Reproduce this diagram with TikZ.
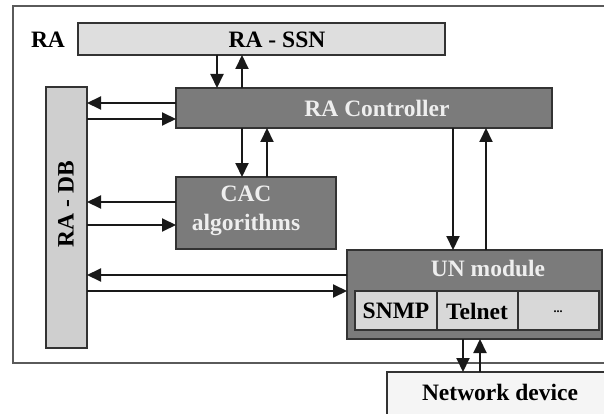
\documentclass[tikz,border=0pt]{standalone}
\usepackage{fontspec}
\setmainfont{Liberation Serif}
\usetikzlibrary{arrows.meta}
\definecolor{darkbox}{HTML}{7B7B7B}
\definecolor{lightbox}{HTML}{DEDEDE}
\definecolor{dbbox}{HTML}{CFCFCF}
\definecolor{cellbox}{HTML}{D8D8D8}
\definecolor{netbox}{HTML}{F5F5F5}
\definecolor{edge}{HTML}{333333}
\definecolor{frametone}{HTML}{5A5A5A}
\definecolor{lighttext}{HTML}{EEEEEE}
\begin{document}
\begin{tikzpicture}[x=1pt,y=-1pt,
  blk/.style={draw=edge,line width=1.4pt,inner sep=0pt,outer sep=0pt,anchor=north west},
  dark/.style={blk,fill=darkbox},
  light/.style={blk,fill=lightbox},
  cell/.style={blk,fill=cellbox,line width=1.2pt},
  lbl/.style={font=\fontsize{23.5}{29}\selectfont\bfseries,inner sep=0pt},
  wlbl/.style={lbl,text=lighttext},
  arr/.style={line width=2pt,draw=black!90,-{Triangle[length=14pt,width=13pt]}}]
\useasboundingbox (0,0) rectangle (604,414);
\clip (0,0) rectangle (604,414);
\fill[white] (0,0) rectangle (604,414);
% outer frame
\draw[frametone,line width=2.2pt] (13,6) rectangle (615,363);
% blocks
\node[light,minimum width=367pt,minimum height=32pt] (ssn) at (78,23) {};
\node[dark,minimum width=376pt,minimum height=40pt] (ctrl) at (176,88) {};
\node[blk,fill=dbbox,minimum width=41pt,minimum height=261pt] (db) at (46,87) {};
\node[dark,minimum width=160pt,minimum height=72pt] (cac) at (176,177) {};
\node[dark,minimum width=255pt,minimum height=89pt] (un) at (347,250) {};
\node[cell,minimum width=82pt,minimum height=39pt] (snmp) at (355,291) {};
\node[cell,minimum width=81pt,minimum height=39pt] (telnet) at (437,291) {};
\node[cell,minimum width=81pt,minimum height=39pt] (more) at (518,291) {};
\node[blk,fill=netbox,minimum width=240pt,minimum height=60pt] (net) at (387,372) {};
% labels
\node[lbl] (ralbl) at (48,40) {RA};
\node[lbl] (ssnlbl) at (277,40) {RA - SSN};
\node[wlbl] (ctrllbl) at (377,108) {RA Controller};
\node[lbl,rotate=90] (dblbl) at (66,204) {RA - DB};
\node[wlbl,align=center] (caclbl) at (246,211) {CAC\\algorithms};
\node[wlbl] (unlbl) at (488,268) {UN module};
\node[lbl] (snmplbl) at (396,311) {SNMP};
\node[lbl] (telnetlbl) at (477,311) {Telnet};
\node[lbl,font=\fontsize{12}{14}\selectfont\bfseries] (morelbl) at (558,312) {...};
\node[lbl] (netlbl) at (500,392) {Network device};
% column / row guides
\coordinate (c217) at (217,0);
\coordinate (c242) at (242,0);
\coordinate (c267) at (267,0);
\coordinate (c453) at (453,0);
\coordinate (c486) at (486,0);
\coordinate (c463) at (463,0);
\coordinate (c480) at (480,0);
\coordinate (r103) at (0,103);
\coordinate (r119) at (0,119);
\coordinate (r202) at (0,202);
\coordinate (r225) at (0,225);
\coordinate (r275) at (0,275);
\coordinate (r291) at (0,291);
% connectors
\draw[arr] (ssn.south -| c217) -- (ctrl.north -| c217);
\draw[arr] (ctrl.north -| c242) -- (ssn.south -| c242);
\draw[arr] (ctrl.west |- r103) -- (db.east |- r103);
\draw[arr] (db.east |- r119) -- (ctrl.west |- r119);
\draw[arr] (ctrl.south -| c242) -- (cac.north -| c242);
\draw[arr] (cac.north -| c267) -- (ctrl.south -| c267);
\draw[arr] (cac.west |- r202) -- (db.east |- r202);
\draw[arr] (db.east |- r225) -- (cac.west |- r225);
\draw[arr] (un.west |- r275) -- (db.east |- r275);
\draw[arr] (db.east |- r291) -- (un.west |- r291);
\draw[arr] (ctrl.south -| c453) -- (un.north -| c453);
\draw[arr] (un.north -| c486) -- (ctrl.south -| c486);
\draw[arr] (un.south -| c463) -- (net.north -| c463);
\draw[arr] (net.north -| c480) -- (un.south -| c480);
\end{tikzpicture}
\end{document}
